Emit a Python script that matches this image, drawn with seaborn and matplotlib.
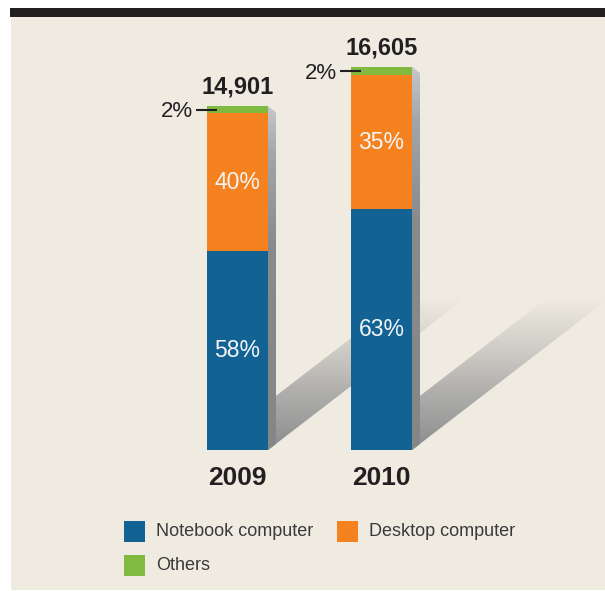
import numpy as np
import pandas as pd
import matplotlib
matplotlib.use("Agg")
import matplotlib.pyplot as plt
from matplotlib.patches import Polygon, Rectangle
from matplotlib.colors import to_rgba
import seaborn as sns

# ---------------- data ----------------
years = ["2009", "2010"]
totals = [14901, 16605]
series = ["Notebook computer", "Desktop computer", "Others"]
notebook_pct = [58, 63]
desktop_pct = [40, 35]
others_pct = [2, 2]
colors = ["#136294", "#f6821f", "#80ba41"]

# ---------------- style ----------------
sns.set_theme(style="white")
plt.rcParams["font.family"] = ["Liberation Sans", "DejaVu Sans"]
DARK = "#231f20"
BEIGE = "#efebe1"
LIGHT_TXT = "#f2f4f6"

W, H, DPI = 605, 591, 100
fig = plt.figure(figsize=(W / DPI, H / DPI), dpi=DPI, facecolor="white")

# background overlay (pixel coordinates)
bg = fig.add_axes([0, 0, 1, 1], zorder=0)
bg.set_xlim(0, W)
bg.set_ylim(H, 0)
bg.axis("off")
bg.add_patch(Rectangle((11, 17), W - 11, 573, color=BEIGE, lw=0))
bg.add_patch(Rectangle((10, 8), W - 10, 9, color=DARK, lw=0))

# ---------------- bar axes ----------------
PX_STEP = 144.0        # pixels between category centres
X0_PX = 237.5          # pixel x of first category
BASE_PX = 450.0        # pixel y of baseline
TOP_PX = 20.0          # pixel y of axes top
MAXTOP_PX = 67.0       # pixel y where the tallest bar ends
XMIN, XMAX = -1.0, 2.55
ax = fig.add_axes([(X0_PX + XMIN * PX_STEP) / W, (H - BASE_PX) / H,
                   (XMAX - XMIN) * PX_STEP / W, (BASE_PX - TOP_PX) / H], zorder=1)
ax.set_facecolor("none")
ymax = max(totals) * (BASE_PX - TOP_PX) / (BASE_PX - MAXTOP_PX)
ux = 1.0 / PX_STEP
uy = ymax / (BASE_PX - TOP_PX)
BW = 61.0 / PX_STEP

df = pd.DataFrame({"year": years, "total": totals,
                   "nb": notebook_pct, "dt": desktop_pct, "ot": others_pct})
df["nb_v"] = df["total"] * df["nb"] / 100
df["dt_v"] = df["total"] * df["dt"] / 100
df["ot_v"] = df["total"] * df["ot"] / 100
df["lvl_nb"] = df["nb_v"]
df["lvl_dt"] = df["nb_v"] + df["dt_v"]
df["lvl_ot"] = df["nb_v"] + df["dt_v"] + df["ot_v"]


def grad_fill(pts, stops, z):
    poly = Polygon(pts, closed=True, transform=ax.transData, fc="none", ec="none")
    ax.add_patch(poly)
    xs = [p[0] for p in pts]
    ys = [p[1] for p in pts]
    t = np.linspace(0, 1, 256)
    fr = [s[0] for s in stops]
    cols = np.array([to_rgba(s[1], s[2]) for s in stops])
    img = np.stack([np.interp(t, fr, cols[:, k]) for k in range(4)], axis=-1)[:, None, :]
    im = ax.imshow(img, extent=[min(xs), max(xs), min(ys), max(ys)], origin="lower",
                   aspect="auto", zorder=z, interpolation="bilinear")
    im.set_clip_path(poly)


# shadows and side faces
SL = 0.77
L = 196
TH = 48
for i in range(len(years)):
    xr = i + BW / 2
    top = df["lvl_ot"][i]
    shadow = [(xr, 0), (xr + L * ux, SL * L * uy), (xr + L * ux, (SL * L + TH) * uy), (xr, TH * uy)]
    grad_fill(shadow, [(0.0, "#86878a", 0.95), (0.3, "#8a8b8d", 0.62),
                       (0.77, "#9a9a9a", 0.0), (1.0, "#9a9a9a", 0.0)], 0.5)
    side = [(xr, 0), (xr + 8 * ux, 6 * uy), (xr + 8 * ux, top - 6 * uy), (xr, top)]
    grad_fill(side, [(0.0, "#858688", 1), (0.6, "#898a8c", 1),
                     (0.86, "#a4a5a7", 1), (1.0, "#c6c7c9", 1)], 0.6)

# stacked bars (drawn as overlapping cumulative levels)
for lvl, col in [("lvl_ot", colors[2]), ("lvl_dt", colors[1]), ("lvl_nb", colors[0])]:
    sns.barplot(data=df, x="year", y=lvl, color=col, width=BW, saturation=1,
                linewidth=0, edgecolor="none", ax=ax, zorder=2)

ax.set_xlim(XMIN, XMAX)
ax.set_ylim(0, ymax)
ax.axis("off")

PT = 0.72  # points per pixel
for i, yr in enumerate(years):
    top = df["lvl_ot"][i]
    ax.annotate(f"{totals[i]:,}", xy=(i, top), xytext=(0, 13 * PT), textcoords="offset points",
                ha="center", va="baseline", fontsize=17, fontweight="bold", color=DARK, zorder=6)
    ax.annotate(yr, xy=(i, 0), xytext=(0, -35 * PT), textcoords="offset points",
                ha="center", va="baseline", fontsize=19, fontweight="bold", color=DARK, zorder=6)
    # inside labels
    for centre, pct in [(df["nb_v"][i] / 2, notebook_pct[i]),
                        (df["nb_v"][i] + df["dt_v"][i] / 2, desktop_pct[i])]:
        ax.annotate(f"{pct}%", xy=(i, centre), xytext=(0, -7 * PT), textcoords="offset points",
                    ha="center", va="baseline", fontsize=16.5, color=LIGHT_TXT, zorder=6)
    # small "Others" callout
    xl = i - BW / 2
    ym = df["lvl_dt"][i] + df["ot_v"][i] / 2
    ax.plot([xl - 11 * ux, xl + 10 * ux], [ym, ym], color=DARK, lw=1.5,
            solid_capstyle="butt", zorder=7)
    ax.annotate(f"{others_pct[i]}%", xy=(xl, ym), xytext=(-14 * PT, -7.7 * PT),
                textcoords="offset points", ha="right", va="baseline",
                fontsize=16, color=DARK, zorder=6)

# ---------------- legend (pixel coordinates) ----------------
legend_pos = [(124, 521), (337, 521), (124, 555)]
for name, col, (lx, ly) in zip(series, colors, legend_pos):
    bg.add_patch(Rectangle((lx, ly), 21, 21, color=col, lw=0))
    bg.text(lx + 32, ly + 11, name, ha="left", va="center", fontsize=13, color="#3a3a3a")

fig.savefig("out.png", dpi=DPI, facecolor="white")
